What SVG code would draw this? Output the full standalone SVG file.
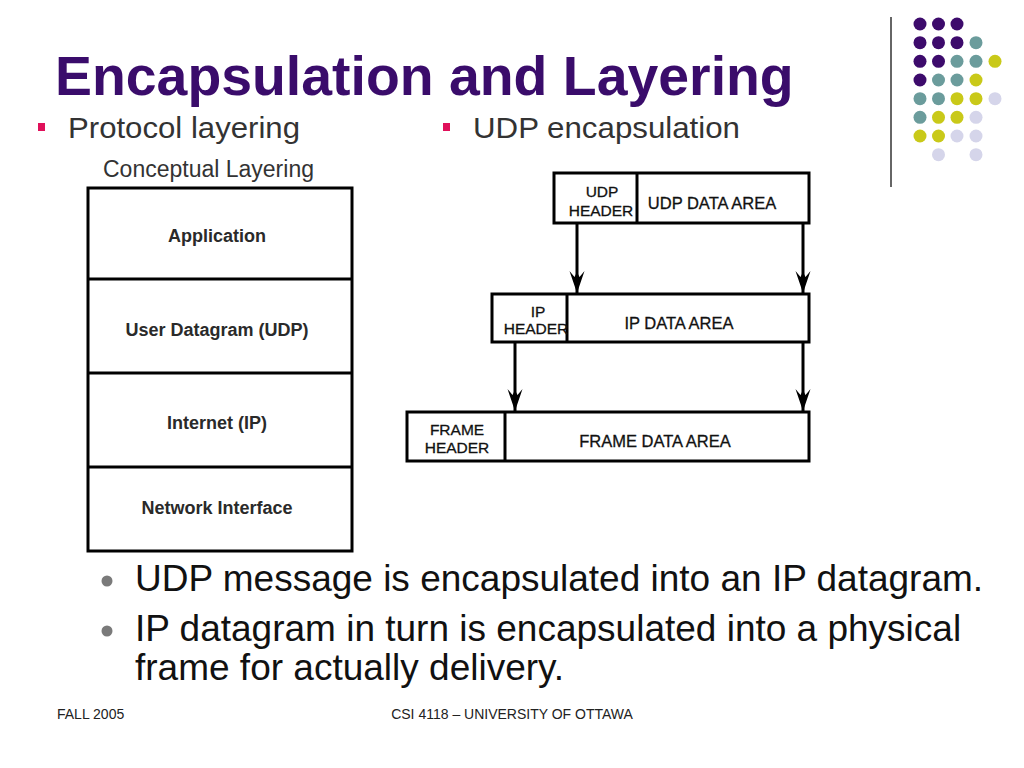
<svg xmlns="http://www.w3.org/2000/svg" width="1024" height="768" viewBox="0 0 1024 768">
<defs>
<style>
text{font-family:"Liberation Sans",Arial,sans-serif;}
.title{font-size:55.4px;font-weight:bold;fill:#3a0c6b;}
.sub{font-size:30px;fill:#333;}
.body{font-size:37px;fill:#111;}
.foot{font-size:14px;fill:#222;}
.lay{font-size:18px;font-weight:bold;fill:#2a2a2a;text-anchor:middle;}
.pk{font-size:15.5px;fill:#111;text-anchor:middle;stroke:#111;stroke-width:0.3;}
.pkd{font-size:16.5px;}
.box{fill:#fff;stroke:#000;stroke-width:3;}
.div{stroke:#000;stroke-width:3;}
.conn{stroke:#000;stroke-width:3;fill:none;}
.pu{fill:#3d0b6c;}.te{fill:#6b9c9c;}.ye{fill:#c9c919;}.la{fill:#d5d5ea;}
</style>
<marker id="ah" viewBox="0 0 24 16" refX="24" refY="8" markerWidth="24" markerHeight="16" markerUnits="userSpaceOnUse" orient="auto">
<path d="M24,8 L2,0.5 L8,5.5 L3,8 L8,10.5 L2,15.5 Z" fill="#000"/>
</marker>
</defs>
<rect width="1024" height="768" fill="#fff"/>

<g id="decoration">
<line x1="891" y1="17" x2="891" y2="187" stroke="#333" stroke-width="1.5"/>
<g>
<circle class="pu" cx="920" cy="24" r="6.5"/><circle class="pu" cx="938.5" cy="24" r="6.5"/><circle class="pu" cx="957" cy="24" r="6.5"/>
<circle class="pu" cx="920" cy="42.7" r="6.5"/><circle class="pu" cx="938.5" cy="42.7" r="6.5"/><circle class="pu" cx="957" cy="42.7" r="6.5"/><circle class="te" cx="976" cy="42.7" r="6.5"/>
<circle class="pu" cx="920" cy="61.3" r="6.5"/><circle class="pu" cx="938.5" cy="61.3" r="6.5"/><circle class="te" cx="957" cy="61.3" r="6.5"/><circle class="te" cx="976" cy="61.3" r="6.5"/><circle class="ye" cx="995" cy="61.3" r="6.5"/>
<circle class="pu" cx="920" cy="80" r="6.5"/><circle class="te" cx="938.5" cy="80" r="6.5"/><circle class="te" cx="957" cy="80" r="6.5"/><circle class="ye" cx="976" cy="80" r="6.5"/>
<circle class="te" cx="920" cy="98.7" r="6.5"/><circle class="te" cx="938.5" cy="98.7" r="6.5"/><circle class="ye" cx="957" cy="98.7" r="6.5"/><circle class="ye" cx="976" cy="98.7" r="6.5"/><circle class="la" cx="995" cy="98.7" r="6.5"/>
<circle class="te" cx="920" cy="117.3" r="6.5"/><circle class="ye" cx="938.5" cy="117.3" r="6.5"/><circle class="ye" cx="957" cy="117.3" r="6.5"/><circle class="la" cx="976" cy="117.3" r="6.5"/>
<circle class="ye" cx="920" cy="136" r="6.5"/><circle class="ye" cx="938.5" cy="136" r="6.5"/><circle class="la" cx="957" cy="136" r="6.5"/><circle class="la" cx="976" cy="136" r="6.5"/>
<circle class="la" cx="938.5" cy="154.7" r="6.5"/><circle class="la" cx="976" cy="154.7" r="6.5"/>
</g>
</g>

<text class="title" x="55" y="95">Encapsulation and Layering</text>

<rect x="38" y="123" width="7" height="8" fill="#e0105a"/>
<text class="sub" x="68" y="138" textLength="232" lengthAdjust="spacingAndGlyphs">Protocol layering</text>
<rect x="443" y="123" width="7" height="8" fill="#e0105a"/>
<text class="sub" x="473" y="138" textLength="267" lengthAdjust="spacingAndGlyphs">UDP encapsulation</text>

<text x="103" y="177" style="font-size:23px;fill:#333">Conceptual Layering</text>

<g id="layers">
<rect class="box" x="88" y="188" width="264" height="363"/>
<line class="div" x1="88" y1="279" x2="352" y2="279"/>
<line class="div" x1="88" y1="373" x2="352" y2="373"/>
<line class="div" x1="88" y1="467" x2="352" y2="467"/>
<g id="layer-app"><text class="lay" x="217" y="242">Application</text></g>
<g id="layer-udp"><text class="lay" x="217" y="336">User Datagram (UDP)</text></g>
<g id="layer-ip"><text class="lay" x="217" y="429">Internet (IP)</text></g>
<g id="layer-net"><text class="lay" x="217" y="514">Network Interface</text></g>
</g>

<g id="udp-packet">
<rect class="box" x="554" y="173" width="255" height="50"/>
<line class="div" x1="637" y1="173" x2="637" y2="223"/>
<text class="pk" x="602" y="197">UDP</text>
<text class="pk" x="601" y="216">HEADER</text>
<text class="pk pkd" x="712" y="209">UDP DATA AREA</text>
</g>

<g id="ip-packet">
<rect class="box" x="492" y="294" width="317" height="48"/>
<line class="div" x1="567" y1="294" x2="567" y2="342"/>
<text class="pk" x="538" y="317">IP</text>
<text class="pk" x="536" y="334">HEADER</text>
<text class="pk pkd" x="679" y="329">IP DATA AREA</text>
</g>

<g id="frame-packet">
<rect class="box" x="407" y="412" width="402" height="49"/>
<line class="div" x1="505" y1="412" x2="505" y2="461"/>
<text class="pk" x="457" y="435">FRAME</text>
<text class="pk" x="457" y="453">HEADER</text>
<text class="pk pkd" x="655" y="447">FRAME DATA AREA</text>
</g>

<g id="connectors">
<line class="conn" x1="577" y1="223" x2="577" y2="293" marker-end="url(#ah)"/>
<line class="conn" x1="803" y1="223" x2="803" y2="293" marker-end="url(#ah)"/>
<line class="conn" x1="515" y1="342" x2="515" y2="411" marker-end="url(#ah)"/>
<line class="conn" x1="803" y1="342" x2="803" y2="411" marker-end="url(#ah)"/>
</g>

<circle cx="107" cy="581" r="5.5" fill="#7a7a7a"/>
<text class="body" x="135" y="591">UDP message is encapsulated into an IP datagram.</text>
<circle cx="107" cy="631" r="5.5" fill="#7a7a7a"/>
<text class="body" x="135" y="641">IP datagram in turn is encapsulated into a physical</text>
<text class="body" x="135" y="680">frame for actually delivery.</text>

<text class="foot" x="57" y="719">FALL 2005</text>
<text class="foot" x="512" y="719" text-anchor="middle">CSI 4118 – UNIVERSITY OF OTTAWA</text>
</svg>
